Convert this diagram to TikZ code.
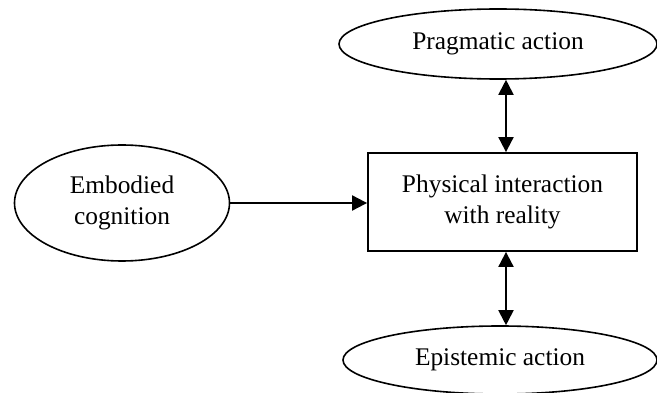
\documentclass[tikz,border=0pt]{standalone}
\usepackage{fontspec}
\setmainfont{Liberation Serif}
\usetikzlibrary{shapes.geometric,arrows.meta}
\tikzset{
    oval/.style={draw,ellipse,line width=1.6pt,inner sep=0pt,align=center,font=\fontsize{25.4}{30.5}\selectfont},
    box/.style={draw,rectangle,line width=1.8pt,inner sep=0pt,align=center,font=\fontsize{25.4}{30.5}\selectfont},
    oneway/.style={line width=1.9pt,-{Triangle[length=15pt,width=15pt]}},
    twoway/.style={line width=1.9pt,{Triangle[length=15pt,width=15pt]}-{Triangle[length=15pt,width=15pt]}}
}
\begin{document}
\begin{tikzpicture}[x=1pt,y=-1pt]
    \useasboundingbox (0,0) rectangle (657,393);
    \node[oval,minimum width=318pt,minimum height=70pt] (prag) at (498,44) {Pragmatic action};
    \node[oval,minimum width=215pt,minimum height=116pt] (embod) at (122,203) {Embodied\\cognition};
    \node[box,minimum width=269pt,minimum height=98pt] (phys) at (502.5,202) {Physical interaction\\with reality};
    \node[oval,minimum width=314pt,minimum height=68pt] (epist) at (500,360) {Epistemic action};
    \coordinate (axis) at (506,0);
    \draw[oneway] (embod.east) -- (embod.east -| phys.west);
    \draw[twoway] (axis |- prag.south) -- (axis |- phys.north);
    \draw[twoway] (axis |- phys.south) -- (axis |- epist.north);
\end{tikzpicture}
\end{document}
